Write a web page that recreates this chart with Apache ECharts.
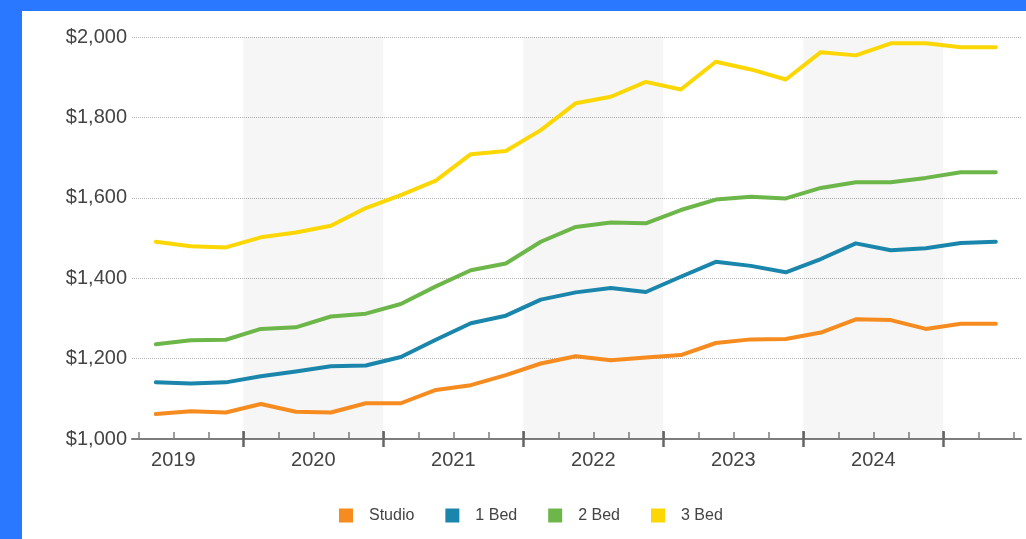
<!DOCTYPE html>
<html>
<head>
<meta charset="utf-8">
<title>Average Rent by Unit Size</title>
<script src="https://cdn.jsdelivr.net/npm/echarts@6/dist/echarts.min.js"></script>
<style>
  html, body { margin: 0; padding: 0; width: 1026px; height: 539px; overflow: hidden; background: #2a78ff; }
  #chart { position: absolute; left: 22px; top: 11px; width: 1004px; height: 528px; background: #ffffff; }
</style>
</head>
<body>
<div id="chart"></div>
<script>
// Quarterly average rents, 2019 Q2 through 2025 Q2
const quarters = [
  '2019 Q2', '2019 Q3', '2019 Q4',
  '2020 Q1', '2020 Q2', '2020 Q3', '2020 Q4',
  '2021 Q1', '2021 Q2', '2021 Q3', '2021 Q4',
  '2022 Q1', '2022 Q2', '2022 Q3', '2022 Q4',
  '2023 Q1', '2023 Q2', '2023 Q3', '2023 Q4',
  '2024 Q1', '2024 Q2', '2024 Q3', '2024 Q4',
  '2025 Q1', '2025 Q2'
];
const studio = [1062, 1069, 1066, 1087, 1068, 1066, 1089, 1089, 1122, 1134, 1159, 1188, 1206, 1196, 1203, 1209, 1239, 1248, 1249, 1265, 1298, 1296, 1274, 1287, 1287];
const oneBed = [1141, 1138, 1141, 1156, 1168, 1181, 1183, 1204, 1247, 1288, 1307, 1347, 1365, 1376, 1366, 1404, 1441, 1431, 1415, 1448, 1487, 1470, 1475, 1488, 1491];
const twoBed = [1236, 1246, 1247, 1274, 1278, 1305, 1312, 1336, 1380, 1420, 1437, 1491, 1528, 1539, 1537, 1570, 1596, 1603, 1599, 1625, 1639, 1639, 1650, 1664, 1664];
const threeBed = [1491, 1480, 1477, 1502, 1514, 1531, 1575, 1607, 1643, 1709, 1717, 1769, 1836, 1852, 1889, 1870, 1939, 1920, 1895, 1963, 1955, 1985, 1985, 1975, 1975];

const seriesNames = ['Studio', '1 Bed', '2 Bed', '3 Bed'];
const seriesColors = ['#f68b1f', '#1b86ab', '#6db64a', '#fcd703'];
const yearLabels = [2019, 2020, 2021, 2022, 2023, 2024];
const shadedYears = [2020, 2022, 2024];

// Visible time window (in fractional years)
const xMin = 2019.205;
const xMax = 2025.555;

const FONT = "'Liberation Sans', Arial, sans-serif";

// Position of each quarter at its midpoint on the year scale
function quarterPos(label) {
  const [y, q] = label.split(' Q');
  return Number(y) + (Number(q) - 0.5) / 4;
}
const xs = quarters.map(quarterPos);
const pair = vals => vals.map((v, i) => [xs[i], v]);

// Quarter boundaries for the small ticks, year boundaries for the large ones
const quarterTicks = [];
for (let y = 2019; y <= 2025; y++) {
  for (let q = 0; q < 4; q++) {
    const t = y + q / 4;
    if (t >= xMin && t <= xMax) quarterTicks.push(t);
  }
}
const yearTicks = [];
for (let y = 2019; y <= 2026; y++) if (y >= xMin && y <= xMax) yearTicks.push(y);
const yearLabelPos = yearLabels.map(y => y + 0.5);

function money(v) {
  return '$' + String(v).replace(/\B(?=(\d{3})+(?!\d))/g, ',');
}

const allValues = [studio, oneBed, twoBed, threeBed];

const series = allValues.map((vals, i) => ({
  name: seriesNames[i],
  type: 'line',
  data: pair(vals),
  showSymbol: false,
  symbol: 'none',
  lineStyle: { width: 4, color: seriesColors[i], cap: 'round', join: 'round' },
  itemStyle: { color: seriesColors[i] },
  z: 3 + i,
  silent: true
}));

// Alternate-year shading
series[0].markArea = {
  silent: true,
  itemStyle: { color: 'rgba(0,0,0,0.035)' },
  data: shadedYears.map(y => [{ xAxis: y }, { xAxis: y + 1 }])
};

const chart = echarts.init(document.getElementById('chart'), null, { renderer: 'canvas' });
chart.setOption({
  animation: false,
  backgroundColor: '#ffffff',
  textStyle: { fontFamily: FONT },
  grid: { left: 110, right: 5, top: 26.3, bottom: 100, containLabel: false },
  legend: {
    data: seriesNames,
    left: 312,
    top: 491.5,
    icon: 'rect',
    itemWidth: 14,
    itemHeight: 14,
    itemGap: 31,
    selectedMode: false,
    textStyle: { fontFamily: FONT, fontSize: 16, color: '#444', padding: [0, 0, 0, 11] }
  },
  xAxis: [
    {
      type: 'value',
      min: xMin,
      max: xMax,
      axisLine: { show: true, lineStyle: { color: '#7d7d7d', width: 2 } },
      axisTick: { show: true, inside: true, length: 7, customValues: quarterTicks, lineStyle: { color: '#7d7d7d', width: 1.5 } },
      axisLabel: {
        show: true,
        customValues: yearLabelPos,
        formatter: v => String(Math.floor(v)),
        fontFamily: FONT,
        fontSize: 20,
        color: '#444',
        margin: 11
      },
      splitLine: { show: false }
    },
    {
      type: 'value',
      min: xMin,
      max: xMax,
      position: 'bottom',
      offset: -8,
      axisLine: { show: false },
      axisTick: { show: true, inside: false, length: 16, customValues: yearTicks, lineStyle: { color: '#666', width: 2.5 } },
      axisLabel: { show: false },
      splitLine: { show: false }
    }
  ],
  yAxis: {
    type: 'value',
    min: 1000,
    max: 2000,
    interval: 200,
    axisLine: { show: false },
    axisTick: { show: false },
    axisLabel: { formatter: money, fontFamily: FONT, fontSize: 20, color: '#444', margin: 5 },
    splitLine: { show: true, lineStyle: { type: 'dotted', color: '#b5b5b5', width: 1 } }
  },
  series: series
});
</script>
</body>
</html>
